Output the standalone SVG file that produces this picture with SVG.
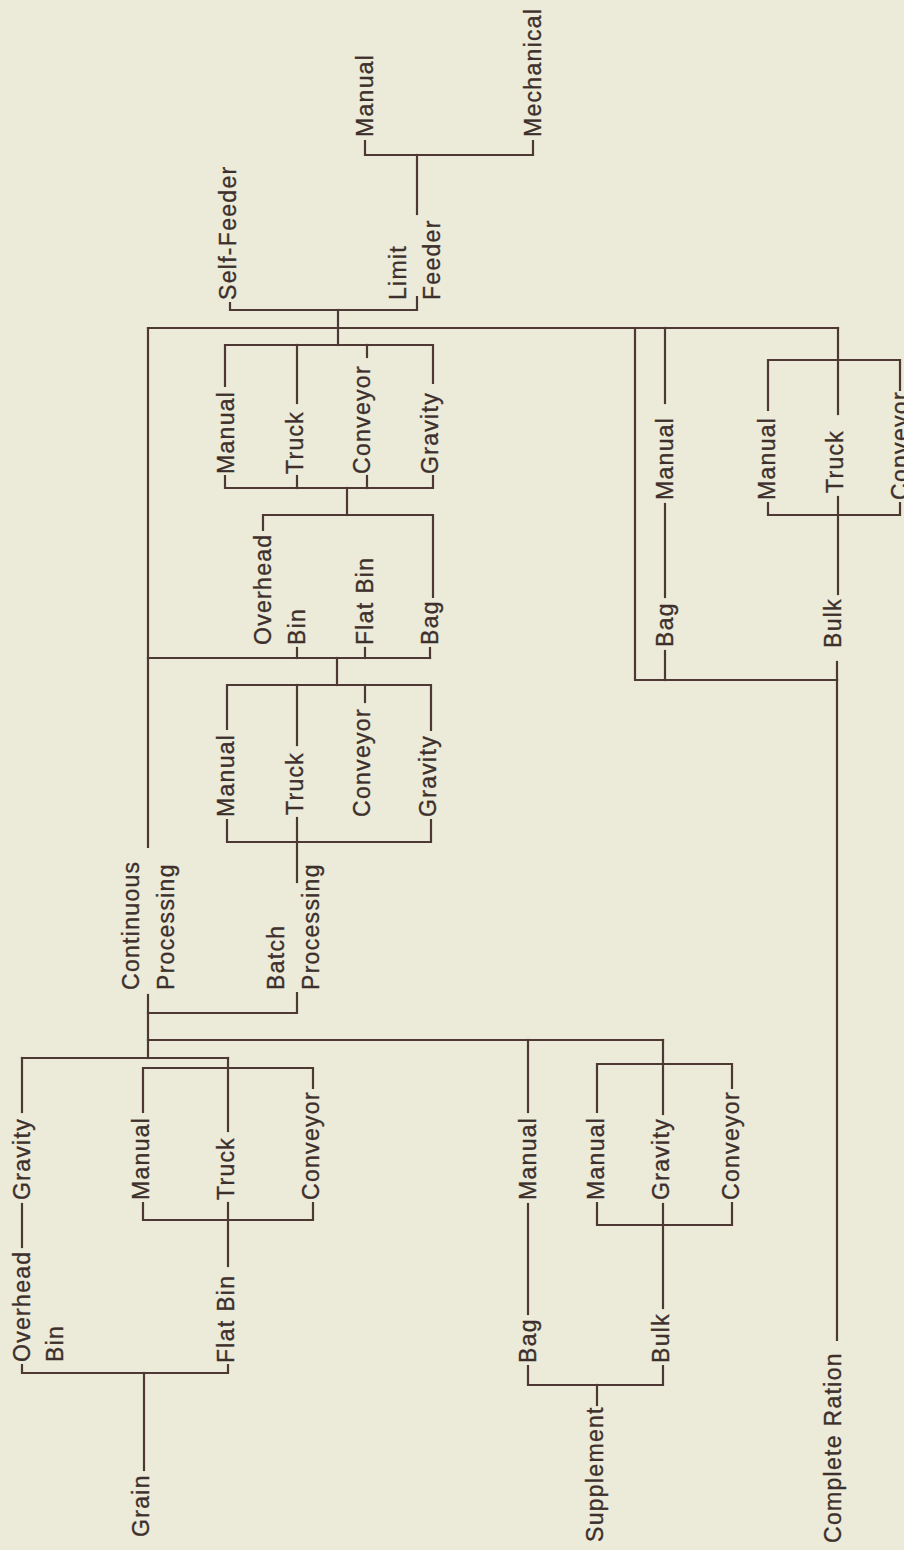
<svg xmlns="http://www.w3.org/2000/svg" width="904" height="1550" viewBox="0 0 904 1550">
<style>
.bg{fill:#ecebda}
.c path{fill:none;stroke:#4d3833;stroke-width:2.2;stroke-linecap:square}
text{font-family:"Liberation Sans",Arial,sans-serif;font-size:23px;letter-spacing:1.3px;fill:#3d2f2b;stroke:#3d2f2b;stroke-width:0.35}
</style>
<rect class="bg" x="0" y="0" width="904" height="1550"/>
<g id="connectors" class="c">
<!-- top feeder -->
<path d="M365,141 V155 H533 V141"/>
<path d="M417,155 V214"/>
<path d="M230,303 V310 H417 V297"/>
<path d="M338,310 V345"/>
<path d="M148,328 H838"/>
<path d="M148,328 V847"/>
<!-- complete ration side -->
<path d="M635,328 V680 H837"/>
<path d="M665,328 V403"/>
<path d="M665,504 V597"/>
<path d="M665,680 V651"/>
<path d="M838,328 V414"/>
<path d="M768,410 V360 H900 V390"/>
<path d="M768,503 V515 H900 V503"/>
<path d="M838,497 V594"/>
<path d="M837,680 V1340"/>
<path d="M837,662 V680"/>
<!-- upper diamond -->
<path d="M225,386 V345 H433 V383"/>
<path d="M297,345 V403"/>
<path d="M367,345 V357"/>
<path d="M225,476 V488 H433 V476"/>
<path d="M297,488 V476"/>
<path d="M367,488 V476"/>
<path d="M347,488 V515"/>
<!-- storage -->
<path d="M263,530 V515 H433 V597"/>
<path d="M148,658 H430"/>
<path d="M297,658 V648"/>
<path d="M365,658 V648"/>
<path d="M430,658 V648"/>
<path d="M337,658 V685"/>
<!-- middle diamond -->
<path d="M227,729 V685 H431 V730"/>
<path d="M297,685 V745"/>
<path d="M365,685 V702"/>
<path d="M227,820 V842 H431 V820"/>
<path d="M297,818 V882"/>
<!-- processing -->
<path d="M297,993 V1013 H148"/>
<path d="M148,995 V1058"/>
<path d="M148,1040 H663"/>
<path d="M22,1058 H228"/>
<!-- grain -->
<path d="M22,1058 V1112"/>
<path d="M22,1204 V1247"/>
<path d="M22,1365 V1373 H228 V1365"/>
<path d="M144,1373 V1470"/>
<path d="M228,1266 V1220"/>
<path d="M143,1203 V1220 H313 V1203"/>
<path d="M228,1220 V1203"/>
<path d="M143,1112 V1068 H313 V1088"/>
<path d="M228,1058 V1131"/>
<!-- supplement -->
<path d="M597,1405 V1385"/>
<path d="M528,1366 V1385 H663 V1366"/>
<path d="M528,1314 V1204"/>
<path d="M528,1112 V1040"/>
<path d="M663,1308 V1225"/>
<path d="M597,1203 V1225 H732 V1203"/>
<path d="M663,1225 V1204"/>
<path d="M597,1112 V1064 H732 V1088"/>
<path d="M663,1040 V1114"/>
</g>
<g id="n-top-manual"><text transform="translate(373,137) rotate(-90)">Manual</text></g>
<g id="n-mechanical"><text transform="translate(541,137) rotate(-90)">Mechanical</text></g>
<g id="n-self-feeder"><text transform="translate(236,300) rotate(-90)">Self-Feeder</text></g>
<g id="n-limit-feeder"><text transform="translate(406,300) rotate(-90)">Limit</text><text transform="translate(440,300) rotate(-90)">Feeder</text></g>
<g id="n-up-manual"><text transform="translate(234,474) rotate(-90)">Manual</text></g>
<g id="n-up-truck"><text transform="translate(303,474) rotate(-90)">Truck</text></g>
<g id="n-up-conveyor"><text transform="translate(370,474) rotate(-90)">Conveyor</text></g>
<g id="n-up-gravity"><text transform="translate(438,474) rotate(-90)">Gravity</text></g>
<g id="n-st-overhead"><text transform="translate(271,645) rotate(-90)">Overhead</text><text transform="translate(305,645) rotate(-90)">Bin</text></g>
<g id="n-st-flatbin"><text transform="translate(373,645) rotate(-90)">Flat Bin</text></g>
<g id="n-st-bag"><text transform="translate(438,645) rotate(-90)">Bag</text></g>
<g id="n-mid-manual"><text transform="translate(234,817) rotate(-90)">Manual</text></g>
<g id="n-mid-truck"><text transform="translate(303,815) rotate(-90)">Truck</text></g>
<g id="n-mid-conveyor"><text transform="translate(370,817) rotate(-90)">Conveyor</text></g>
<g id="n-mid-gravity"><text transform="translate(436,817) rotate(-90)">Gravity</text></g>
<g id="n-continuous"><text transform="translate(139,990) rotate(-90)">Continuous</text><text transform="translate(174,990) rotate(-90)">Processing</text></g>
<g id="n-batch"><text transform="translate(284,990) rotate(-90)">Batch</text><text transform="translate(319,990) rotate(-90)">Processing</text></g>
<g id="n-cr-manual"><text transform="translate(673,500) rotate(-90)">Manual</text></g>
<g id="n-cr-bag"><text transform="translate(673,647) rotate(-90)">Bag</text></g>
<g id="n-cr-d-manual"><text transform="translate(775,500) rotate(-90)">Manual</text></g>
<g id="n-cr-d-truck"><text transform="translate(843,493) rotate(-90)">Truck</text></g>
<g id="n-cr-d-conveyor"><text transform="translate(908,500) rotate(-90)">Conveyor</text></g>
<g id="n-cr-bulk"><text transform="translate(841,648) rotate(-90)">Bulk</text></g>
<g id="n-grain-gravity"><text transform="translate(30,1200) rotate(-90)">Gravity</text></g>
<g id="n-grain-manual"><text transform="translate(149,1200) rotate(-90)">Manual</text></g>
<g id="n-grain-truck"><text transform="translate(234,1200) rotate(-90)">Truck</text></g>
<g id="n-grain-conveyor"><text transform="translate(319,1200) rotate(-90)">Conveyor</text></g>
<g id="n-grain-overhead"><text transform="translate(30,1362) rotate(-90)">Overhead</text><text transform="translate(63,1362) rotate(-90)">Bin</text></g>
<g id="n-grain-flatbin"><text transform="translate(234,1363) rotate(-90)">Flat Bin</text></g>
<g id="n-grain"><text transform="translate(149,1537) rotate(-90)">Grain</text></g>
<g id="n-supp-bag-manual"><text transform="translate(536,1200) rotate(-90)">Manual</text></g>
<g id="n-supp-manual"><text transform="translate(604,1200) rotate(-90)">Manual</text></g>
<g id="n-supp-gravity"><text transform="translate(669,1200) rotate(-90)">Gravity</text></g>
<g id="n-supp-conveyor"><text transform="translate(739,1200) rotate(-90)">Conveyor</text></g>
<g id="n-supp-bag"><text transform="translate(536,1363) rotate(-90)">Bag</text></g>
<g id="n-supp-bulk"><text transform="translate(669,1363) rotate(-90)">Bulk</text></g>
<g id="n-supplement"><text transform="translate(603,1542) rotate(-90)">Supplement</text></g>
<g id="n-complete-ration"><text transform="translate(841,1543) rotate(-90)">Complete Ration</text></g>
</svg>
